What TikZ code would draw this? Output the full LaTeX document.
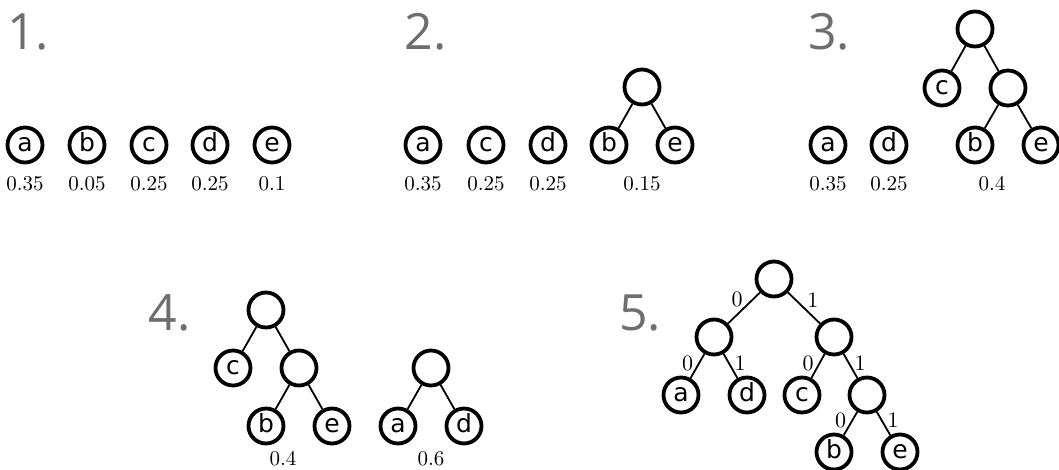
\documentclass[tikz,border=0pt]{standalone}
\usepackage{fontspec}
\newfontfamily\titlefont{Open Sans}
\newfontfamily\letterfont{DejaVu Sans}
\newfontfamily\probfont{lmroman10-regular}[Extension=.otf]
\definecolor{titlegray}{HTML}{6E6E6E}
\tikzset{
  hn/.style={circle, draw=black, line width=3.8pt, minimum size=35pt, inner sep=0pt,
    text height=12.5pt, text depth=0pt, font=\letterfont\fontsize{25}{25}\selectfont},
  ttl/.style={anchor=base west, inner sep=0pt, text=titlegray, font=\titlefont\fontsize{50}{50}\selectfont},
  prob/.style={inner sep=0pt, font=\probfont\fontsize{21}{21}\selectfont},
  edg/.style={line width=1.8pt},
  lab/.style={inner sep=0pt, font=\probfont\fontsize{22}{22}\selectfont},
  topzero/.style={lab, midway, anchor=south east, xshift=-0.5pt},
  topone/.style={lab, midway, anchor=south west, xshift=2.5pt},
  lowzero/.style={lab, midway, anchor=east, xshift=-3.5pt, yshift=3pt},
  lowone/.style={lab, midway, anchor=west, xshift=3.25pt, yshift=3pt}
}
\begin{document}
\begin{tikzpicture}[x=1pt,y=-1pt]
\useasboundingbox (0,0) rectangle (1059,470);
% ---------- Panel 1 ----------
\node[ttl] (t1) at (7,50) {1.};
\node[hn] (a1) at (25,145) {a};
\node[hn] (b1) at (87,145) {b};
\node[hn] (c1) at (149,145) {c};
\node[hn] (d1) at (210,145) {d};
\node[hn] (e1) at (272,145) {e};
\node[prob] (pa1) at (25,183.5) {0.35};
\node[prob] (pb1) at (87,183.5) {0.05};
\node[prob] (pc1) at (149,183.5) {0.25};
\node[prob] (pd1) at (210,183.5) {0.25};
\node[prob] (pe1) at (272,183.5) {0.1};
% ---------- Panel 2 ----------
\node[ttl] (t2) at (404.5,50) {2.};
\node[hn] (a2) at (423,145) {a};
\node[hn] (c2) at (486,145) {c};
\node[hn] (d2) at (548,145) {d};
\node[hn] (r2) at (642,87) {};
\node[hn] (b2) at (609,145) {b};
\node[hn] (e2) at (675,145) {e};
\draw[edg] (r2) -- (b2);
\draw[edg] (r2) -- (e2);
\node[prob] (pa2) at (423,183.5) {0.35};
\node[prob] (pc2) at (486,183.5) {0.25};
\node[prob] (pd2) at (548,183.5) {0.25};
\node[prob] (pbe2) at (642,183.5) {0.15};
% ---------- Panel 3 ----------
\node[ttl] (t3) at (808,50) {3.};
\node[hn] (a3) at (828,145) {a};
\node[hn] (d3) at (889,145) {d};
\node[hn] (r3) at (975,29) {};
\node[hn] (c3) at (942,88) {c};
\node[hn] (n3) at (1008,88) {};
\node[hn] (b3) at (975,145) {b};
\node[hn] (e3) at (1041,145) {e};
\draw[edg] (r3) -- (c3);
\draw[edg] (r3) -- (n3);
\draw[edg] (n3) -- (b3);
\draw[edg] (n3) -- (e3);
\node[prob] (pa3) at (828,183.5) {0.35};
\node[prob] (pd3) at (889,183.5) {0.25};
\node[prob] (pt3) at (992,183.5) {0.4};
% ---------- Panel 4 ----------
\node[ttl] (t4) at (148.5,330) {4.};
\node[hn] (r4) at (266,310) {};
\node[hn] (c4) at (233,368) {c};
\node[hn] (n4) at (299,368) {};
\node[hn] (b4) at (266,426) {b};
\node[hn] (e4) at (332,426) {e};
\draw[edg] (r4) -- (c4);
\draw[edg] (r4) -- (n4);
\draw[edg] (n4) -- (b4);
\draw[edg] (n4) -- (e4);
\node[hn] (s4) at (431,368) {};
\node[hn] (a4) at (398,426) {a};
\node[hn] (d4) at (464,426) {d};
\draw[edg] (s4) -- (a4);
\draw[edg] (s4) -- (d4);
\node[prob] (pt4) at (283,459) {0.4};
\node[prob] (ps4) at (431,459) {0.6};
% ---------- Panel 5 ----------
\node[ttl] (t5) at (619,330) {5.};
\node[hn] (r5) at (774,279) {};
\node[hn] (l5) at (714,337) {};
\node[hn] (q5) at (834,337) {};
\node[hn] (a5) at (681,395) {a};
\node[hn] (d5) at (747,395) {d};
\node[hn] (c5) at (802,395) {c};
\node[hn] (n5) at (867,395) {};
\node[hn] (b5) at (834,452) {b};
\node[hn] (e5) at (900,452) {e};
\draw[edg] (r5) -- node[topzero] {0} (l5);
\draw[edg] (r5) -- node[topone] {1} (q5);
\draw[edg] (l5) -- node[lowzero] {0} (a5);
\draw[edg] (l5) -- node[lowone] {1} (d5);
\draw[edg] (q5) -- node[lowzero] {0} (c5);
\draw[edg] (q5) -- node[lowone] {1} (n5);
\draw[edg] (n5) -- node[lowzero] {0} (b5);
\draw[edg] (n5) -- node[lowone] {1} (e5);
\end{tikzpicture}
\end{document}
